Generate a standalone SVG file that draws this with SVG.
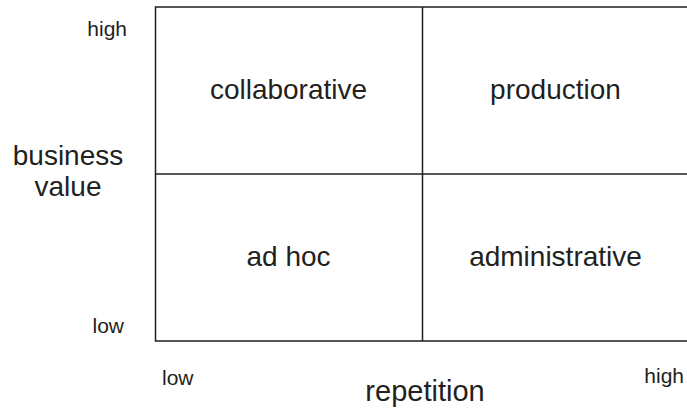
<svg xmlns="http://www.w3.org/2000/svg" width="687" height="410" viewBox="0 0 687 410">
<style>
text{font-family:"Liberation Sans",Arial,sans-serif;fill:#231f20}
.q{font-size:28px;text-anchor:middle}
.s{font-size:21px}
.line{stroke:#231f20;stroke-width:1.5;fill:none}
</style>
<rect width="687" height="410" fill="#fff"/>
<g id="grid">
<rect class="line" x="155.5" y="7" width="534" height="334"/>
</g>
<g id="connectors">
<line class="line" x1="422.5" y1="7" x2="422.5" y2="341"/>
<line class="line" x1="155.5" y1="174" x2="689" y2="174"/>
</g>
<g id="collaborative"><text class="q" x="288.5" y="99">collaborative</text></g>
<g id="production"><text class="q" x="555.5" y="99">production</text></g>
<g id="adhoc"><text class="q" x="288.5" y="266">ad hoc</text></g>
<g id="administrative"><text class="q" x="555.5" y="266">administrative</text></g>
<g id="yaxis">
<text class="q" x="68" y="165">business</text>
<text class="q" x="68" y="196">value</text>
<text class="s" x="127" y="36" text-anchor="end">high</text>
<text class="s" x="124" y="333" text-anchor="end">low</text>
</g>
<g id="xaxis">
<text class="s" x="162" y="385">low</text>
<text class="s" x="684" y="383" text-anchor="end">high</text>
<text class="q" x="425" y="401" style="font-size:29px">repetition</text>
</g>
</svg>
